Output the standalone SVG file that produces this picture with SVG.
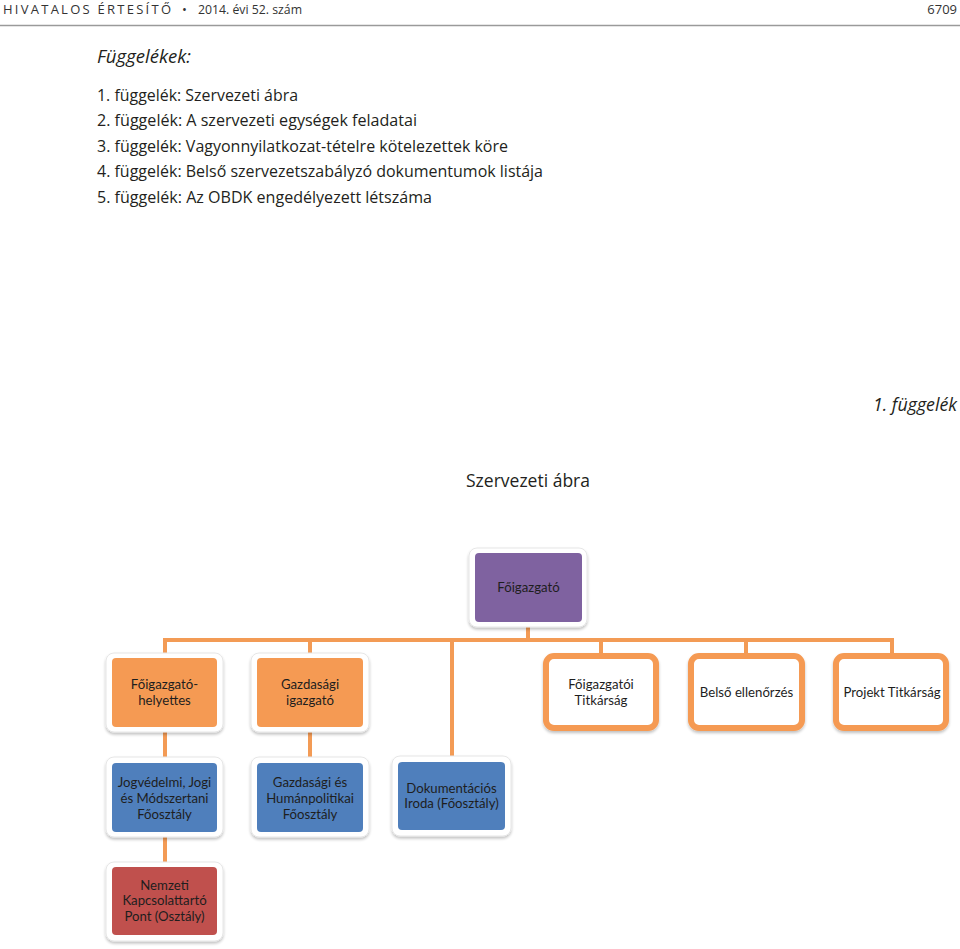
<svg xmlns="http://www.w3.org/2000/svg" width="960" height="949" viewBox="0 0 960 949">
<style>
.hdr{font-family:"Open Sans","Liberation Sans",sans-serif;font-size:13px;fill:#333}
.body{font-family:"Open Sans","Liberation Sans",sans-serif;font-size:16px;fill:#231f20}
.it{font-family:"Open Sans","Liberation Sans",sans-serif;font-style:italic;font-size:18px;fill:#231f20}
.ttl{font-family:"Open Sans","Liberation Sans",sans-serif;font-size:18px;fill:#231f20}
.lbl{font-family:"Lato","Liberation Sans",sans-serif;font-size:13.2px;fill:#1e1e1e;text-anchor:middle}
.con{stroke:#f39b55;stroke-width:4;fill:none}
.halo{fill:#fff;stroke:#e6e6e6;stroke-width:1;filter:url(#sh)}
.pur{fill:#7f62a0}
.org{fill:#f59a53}
.blu{fill:#4f7fbc}
.red{fill:#c0504d}
.ob{fill:#fff;stroke:#f59a53;stroke-width:6;filter:url(#sh)}
</style>
<defs>
<filter id="sh" x="-10%" y="-10%" width="120%" height="125%">
<feGaussianBlur in="SourceAlpha" stdDeviation="1.5"/>
<feOffset dx="0" dy="1.5" result="b"/>
<feComponentTransfer><feFuncA type="linear" slope="0.25"/></feComponentTransfer>
<feMerge><feMergeNode/><feMergeNode in="SourceGraphic"/></feMerge>
</filter>
</defs>
<rect width="960" height="949" fill="#fff"/>
<g id="header">
<text class="hdr" x="3" y="14" textLength="168" lengthAdjust="spacing">HIVATALOS ÉRTESÍTŐ</text>
<text class="hdr" x="182" y="14">•</text>
<text class="hdr" x="198" y="14" textLength="104" lengthAdjust="spacingAndGlyphs">2014. évi 52. szám</text>
<text class="hdr" x="957" y="14" text-anchor="end">6709</text>
<line x1="0" y1="25.5" x2="960" y2="25.5" stroke="#9a9a9a" stroke-width="1.5"/>
</g>
<g id="intro">
<text class="it" x="97" y="63" textLength="94" lengthAdjust="spacingAndGlyphs">Függelékek:</text>
<text class="body" x="97" y="101" textLength="201" lengthAdjust="spacingAndGlyphs">1. függelék: Szervezeti ábra</text>
<text class="body" x="97" y="126" textLength="320" lengthAdjust="spacingAndGlyphs">2. függelék: A szervezeti egységek feladatai</text>
<text class="body" x="97" y="152" textLength="411" lengthAdjust="spacingAndGlyphs">3. függelék: Vagyonnyilatkozat-tételre kötelezettek köre</text>
<text class="body" x="97" y="177" textLength="446" lengthAdjust="spacingAndGlyphs">4. függelék: Belső szervezetszabályzó dokumentumok listája</text>
<text class="body" x="97" y="203" textLength="335" lengthAdjust="spacingAndGlyphs">5. függelék: Az OBDK engedélyezett létszáma</text>
<text class="it" x="957" y="411" text-anchor="end" textLength="84" lengthAdjust="spacingAndGlyphs">1. függelék</text>
<text class="ttl" x="466" y="487" textLength="124" lengthAdjust="spacingAndGlyphs">Szervezeti ábra</text>
</g>
<g id="connectors">
<line class="con" x1="528" y1="627" x2="528" y2="640"/>
<line class="con" x1="163" y1="640" x2="894" y2="640"/>
<line class="con" x1="165" y1="638" x2="165" y2="654"/>
<line class="con" x1="310" y1="638" x2="310" y2="654"/>
<line class="con" x1="452" y1="638" x2="452" y2="758"/>
<line class="con" x1="601" y1="638" x2="601" y2="654"/>
<line class="con" x1="746" y1="638" x2="746" y2="654"/>
<line class="con" x1="892" y1="638" x2="892" y2="654"/>
<line class="con" x1="165" y1="731" x2="165" y2="759"/>
<line class="con" x1="310" y1="731" x2="310" y2="759"/>
<line class="con" x1="165" y1="836" x2="165" y2="863"/>
</g>
<g id="foigazgato">
<rect class="halo" x="469" y="548" width="118" height="79" rx="8"/>
<rect class="pur" x="475" y="553" width="107" height="69" rx="4"/>
<text class="lbl" x="528.5" y="592">Főigazgató</text>
</g>
<g id="foigazgato-helyettes">
<rect class="halo" x="106" y="653" width="117" height="79" rx="8"/>
<rect class="org" x="112" y="658" width="105" height="69" rx="4"/>
<text class="lbl" x="164.5" y="689">Főigazgató-</text>
<text class="lbl" x="164.5" y="705">helyettes</text>
</g>
<g id="gazdasagi-igazgato">
<rect class="halo" x="251" y="653" width="118" height="79" rx="8"/>
<rect class="org" x="257" y="658" width="106" height="69" rx="4"/>
<text class="lbl" x="310" y="689">Gazdasági</text>
<text class="lbl" x="310" y="705">igazgató</text>
</g>
<g id="foigazgatoi-titkarsag">
<rect class="ob" x="546" y="656" width="110" height="72" rx="8"/>
<text class="lbl" x="601" y="689">Főigazgatói</text>
<text class="lbl" x="601" y="705">Titkárság</text>
</g>
<g id="belso-ellenorzes">
<rect class="ob" x="691" y="656" width="111" height="72" rx="8"/>
<text class="lbl" x="746.5" y="697">Belső ellenőrzés</text>
</g>
<g id="projekt-titkarsag">
<rect class="ob" x="836" y="656" width="110" height="72" rx="8"/>
<text class="lbl" x="892" y="697">Projekt Titkárság</text>
</g>
<g id="jogvedelmi">
<rect class="halo" x="106" y="757" width="117" height="80" rx="8"/>
<rect class="blu" x="112" y="763" width="105" height="69" rx="4"/>
<text class="lbl" x="164.5" y="787">Jogvédelmi, Jogi</text>
<text class="lbl" x="164.5" y="803">és Módszertani</text>
<text class="lbl" x="164.5" y="819">Főosztály</text>
</g>
<g id="gazdasagi-humanpolitikai">
<rect class="halo" x="251" y="757" width="118" height="80" rx="8"/>
<rect class="blu" x="257" y="763" width="106" height="69" rx="4"/>
<text class="lbl" x="310" y="787">Gazdasági és</text>
<text class="lbl" x="310" y="803">Humánpolitikai</text>
<text class="lbl" x="310" y="819">Főosztály</text>
</g>
<g id="dokumentacios">
<rect class="halo" x="392" y="756" width="119" height="80" rx="8"/>
<rect class="blu" x="398" y="762" width="107" height="68" rx="4"/>
<text class="lbl" x="451.5" y="793">Dokumentációs</text>
<text class="lbl" x="451.5" y="808">Iroda (Főosztály)</text>
</g>
<g id="nemzeti-kapcsolattarto">
<rect class="halo" x="106" y="862" width="117" height="79" rx="8"/>
<rect class="red" x="112" y="867" width="105" height="68" rx="4"/>
<text class="lbl" x="164.5" y="890">Nemzeti</text>
<text class="lbl" x="164.5" y="905">Kapcsolattartó</text>
<text class="lbl" x="164.5" y="921">Pont (Osztály)</text>
</g>
</svg>
